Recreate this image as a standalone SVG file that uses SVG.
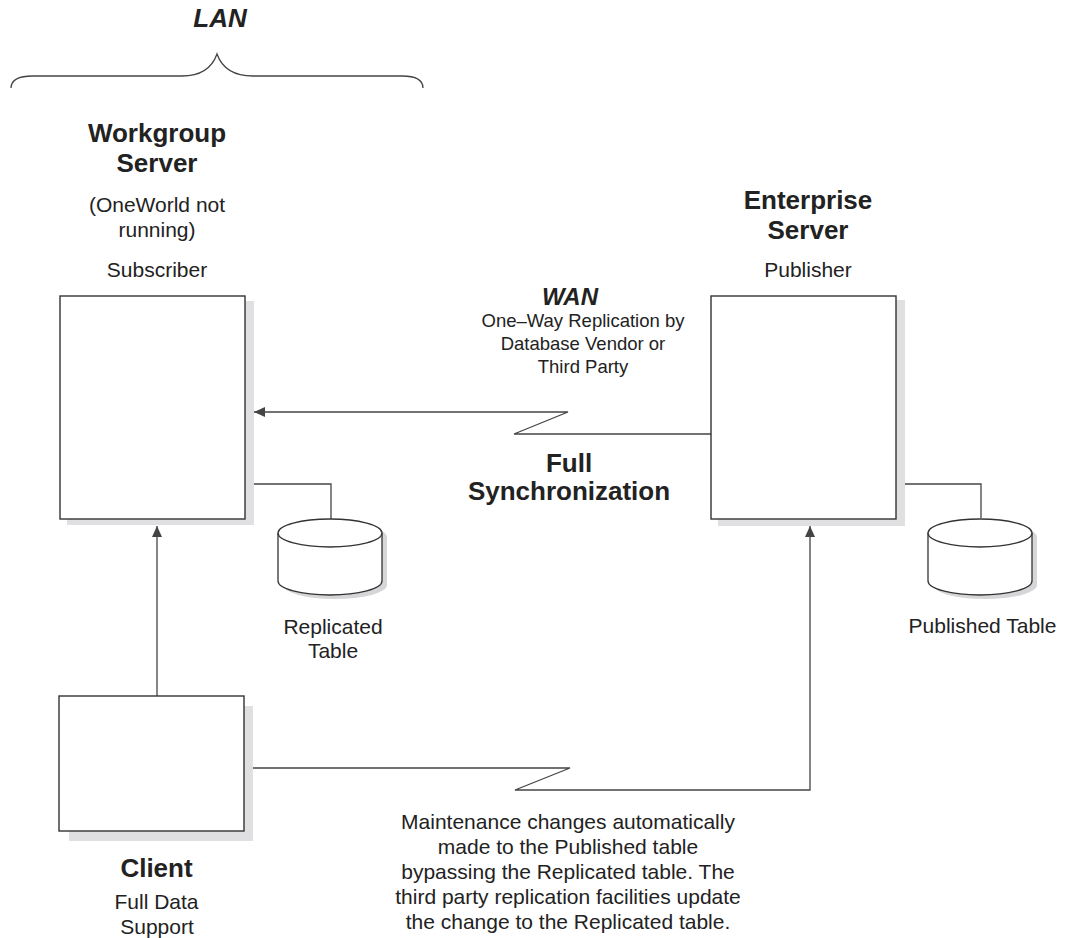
<svg xmlns="http://www.w3.org/2000/svg" width="1067" height="938" viewBox="0 0 1067 938">
<style>
text{font-family:"Liberation Sans",Arial,Helvetica,sans-serif;fill:#222;text-anchor:middle}
.b{font-weight:bold;font-size:26px}
.bi{font-weight:bold;font-style:italic}
.r{font-size:21px}
.s{font-size:18.5px}
.box{fill:#fff;stroke:#333;stroke-width:1.4}
.sh{fill:#e0e0e2;stroke:none}
.cyl{fill:#fff;stroke:#333;stroke-width:1.3}
.csh{fill:#d6d6d8;stroke:none}
.ln{fill:none;stroke:#444;stroke-width:1.3}
</style>
<defs>
<marker id="ah" markerUnits="userSpaceOnUse" markerWidth="12" markerHeight="10" refX="11" refY="5" orient="auto">
<path d="M0,0 L11,5 L0,10 z" fill="#444"/>
</marker>
</defs>
<rect width="1067" height="938" fill="#fff"/>

<g id="lan">
<text class="bi" x="220" y="27" font-size="26">LAN</text>
<path class="ln" d="M11,88 C11,80 18,76 33,76 L182,76 C200,76 212,68 217,54 C222,68 234,76 253,76 L402,76 C416,76 423,80 423,88" stroke="#555"/>
</g>

<g id="connectors">
<polyline class="ln" points="711,434 514,434 568,412 254,412" marker-end="url(#ah)"/>
<polyline class="ln" points="253,768 570,768 515,790 810,790 810,526" marker-end="url(#ah)"/>
<line class="ln" x1="157" y1="696" x2="157" y2="526" marker-end="url(#ah)"/>
<polyline class="ln" points="254,484 331,484 331,519"/>
<polyline class="ln" points="905,484 981,484 981,518"/>
</g>

<g id="workgroup">
<rect class="sh" x="67" y="301" width="187" height="224"/>
<rect class="box" x="60" y="296" width="185" height="223"/>
<text class="b" x="157" y="142">Workgroup</text>
<text class="b" x="157" y="172">Server</text>
<text class="r" x="157" y="212">(OneWorld not</text>
<text class="r" x="157" y="237">running)</text>
<text class="r" x="157" y="277">Subscriber</text>
</g>

<g id="enterprise">
<rect class="sh" x="718" y="300" width="187" height="226"/>
<rect class="box" x="711" y="296" width="185" height="223"/>
<text class="b" x="808" y="209">Enterprise</text>
<text class="b" x="808" y="239">Server</text>
<text class="r" x="808" y="277">Publisher</text>
</g>

<g id="client">
<rect class="sh" x="69" y="706" width="184" height="135"/>
<rect class="box" x="59" y="696" width="185" height="135"/>
<text class="b" x="156.5" y="877">Client</text>
<text class="r" x="156.5" y="909">Full Data</text>
<text class="r" x="157" y="934">Support</text>
</g>

<g id="replicated">
<path class="csh" d="M283,537 L283,585 A52,14 0 0 0 387,585 L387,537 A52,14 0 0 0 283,537 z"/>
<path class="cyl" d="M278,533 L278,581 A52,14 0 0 0 382,581 L382,533"/>
<ellipse class="cyl" cx="330" cy="533" rx="52" ry="14"/>
<text class="r" x="333" y="634">Replicated</text>
<text class="r" x="333" y="658">Table</text>
</g>

<g id="published">
<path class="csh" d="M933,537 L933,585 A52,14 0 0 0 1037,585 L1037,537 A52,14 0 0 0 933,537 z"/>
<path class="cyl" d="M928,533 L928,581 A52,14 0 0 0 1032,581 L1032,533"/>
<ellipse class="cyl" cx="980" cy="533" rx="52" ry="14"/>
<text class="r" x="982.5" y="633">Published Table</text>
</g>

<g id="wan">
<text class="bi" x="570" y="305" font-size="24">WAN</text>
<text class="s" x="583" y="327">One–Way Replication by</text>
<text class="s" x="583" y="350">Database Vendor or</text>
<text class="s" x="583" y="373">Third Party</text>
</g>

<g id="fullsync">
<text class="b" x="569" y="472">Full</text>
<text class="b" x="569" y="500">Synchronization</text>
</g>

<g id="maintenance">
<text class="r" x="568" y="829">Maintenance changes automatically</text>
<text class="r" x="568" y="854">made to the Published table</text>
<text class="r" x="568" y="879">bypassing the Replicated table. The</text>
<text class="r" x="568" y="904">third party replication facilities update</text>
<text class="r" x="568" y="929">the change to the Replicated table.</text>
</g>
</svg>
